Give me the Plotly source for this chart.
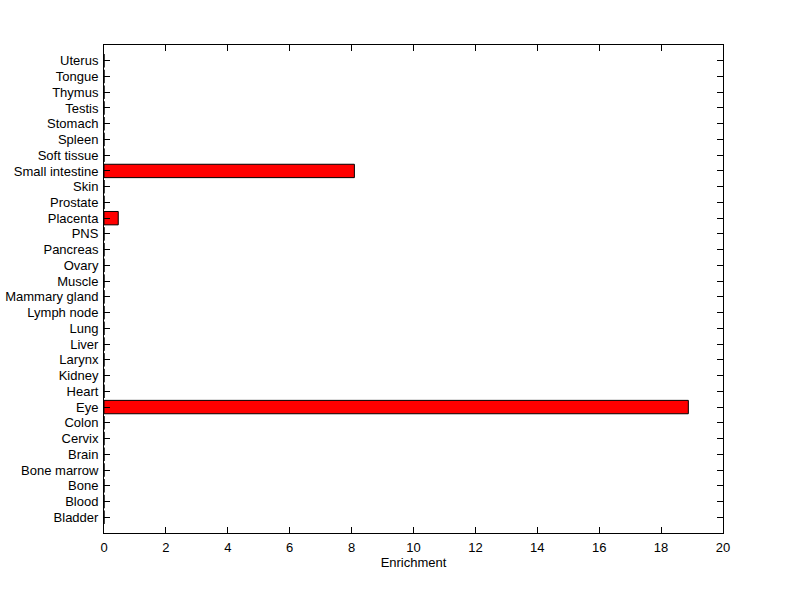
import plotly.graph_objects as go

tissues = ["Bladder", "Blood", "Bone", "Bone marrow", "Brain", "Cervix", "Colon", "Eye",
           "Heart", "Kidney", "Larynx", "Liver", "Lung", "Lymph node", "Mammary gland",
           "Muscle", "Ovary", "Pancreas", "PNS", "Placenta", "Prostate", "Skin",
           "Small intestine", "Soft tissue", "Spleen", "Stomach", "Testis", "Thymus",
           "Tongue", "Uterus"]
enrichment = [0, 0, 0, 0, 0, 0, 0, 18.88, 0, 0, 0, 0, 0, 0, 0, 0, 0, 0, 0, 0.46,
              0, 0, 8.09, 0, 0, 0, 0, 0, 0, 0]
x_ticks = [0, 2, 4, 6, 8, 10, 12, 14, 16, 18, 20]

positions = list(range(len(tissues)))

FONT = dict(family="Liberation Sans, Arial, sans-serif", size=13, color="black")

fig = go.Figure(go.Bar(
    x=enrichment, y=positions, orientation="h",
    width=0.85,
    marker=dict(color="#ff0000", line=dict(color="black", width=1)),
))

axis_common = dict(
    showline=True, linecolor="black", linewidth=1, mirror="allticks",
    ticks="inside", ticklen=6, tickcolor="black", showgrid=False, zeroline=False,
    tickfont=FONT, automargin=False,
)

fig.update_layout(
    width=800, height=599,
    margin=dict(l=104, r=77, t=45, b=66),
    paper_bgcolor="white", plot_bgcolor="white",
    showlegend=False,
    xaxis=dict(range=[0, 20], tickvals=x_ticks, ticklabelstandoff=2,
               title=dict(text="Enrichment", standoff=3, font=FONT),
               **axis_common),
    yaxis=dict(range=[-1, 30], tickvals=positions, ticktext=tissues,
               ticklabelstandoff=2, **axis_common),
)

# remove the page's default body margin so the figure sits at the window's corner
fig.write_html("out.html", config={"displayModeBar": False},
               post_script="document.body.style.margin='0';")
